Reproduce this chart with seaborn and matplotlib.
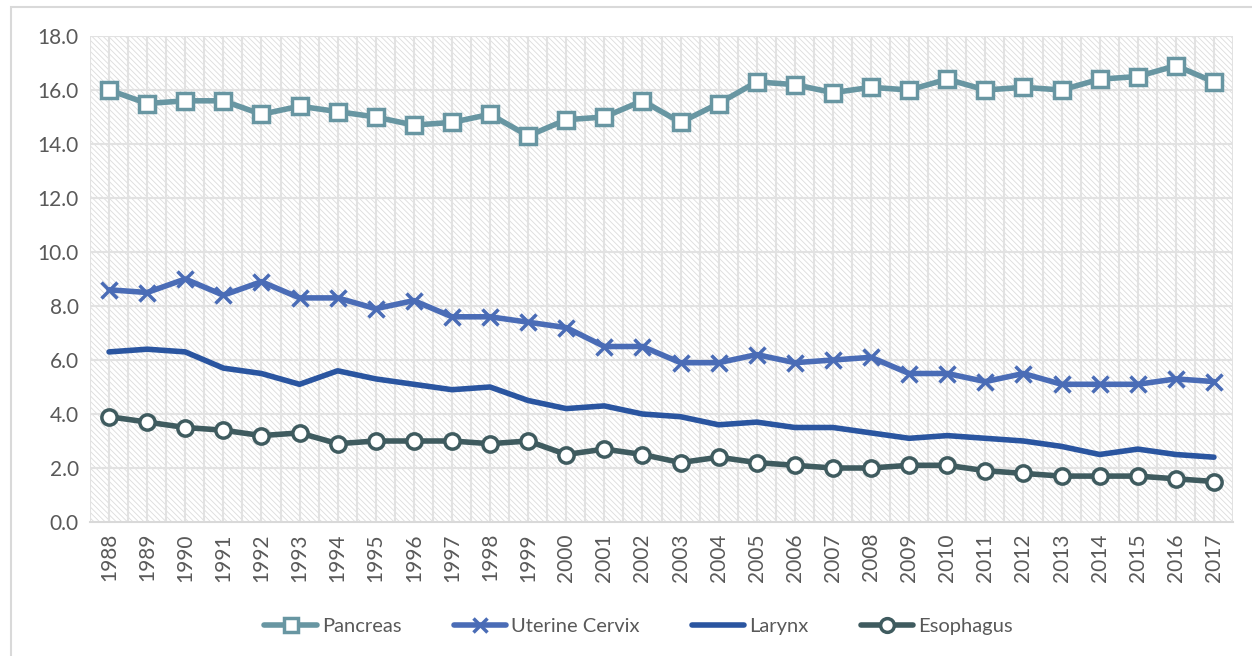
import numpy as np
import pandas as pd
import seaborn as sns
import matplotlib
matplotlib.use('Agg')
import matplotlib.pyplot as plt
from matplotlib.patches import Rectangle

# ------------------------------------------------
# Data

years = list(range(1988, 2018))

pancreas = [16.0, 15.5, 15.6, 15.6, 15.1, 15.4, 15.2, 15.0, 14.7, 14.8,
            15.1, 14.3, 14.9, 15.0, 15.6, 14.8, 15.5, 16.3, 16.2, 15.9,
            16.1, 16.0, 16.4, 16.0, 16.1, 16.0, 16.4, 16.5, 16.9, 16.3]

cervix = [8.6, 8.5, 9.0, 8.4, 8.9, 8.3, 8.3, 7.9, 8.2, 7.6,
          7.6, 7.4, 7.2, 6.5, 6.5, 5.9, 5.9, 6.2, 5.9, 6.0,
          6.1, 5.5, 5.5, 5.2, 5.5, 5.1, 5.1, 5.1, 5.3, 5.2]

larynx = [6.3, 6.4, 6.3, 5.7, 5.5, 5.1, 5.6, 5.3, 5.1, 4.9,
          5.0, 4.5, 4.2, 4.3, 4.0, 3.9, 3.6, 3.7, 3.5, 3.5,
          3.3, 3.1, 3.2, 3.1, 3.0, 2.8, 2.5, 2.7, 2.5, 2.4]

esophagus = [3.9, 3.7, 3.5, 3.4, 3.2, 3.3, 2.9, 3.0, 3.0, 3.0,
             2.9, 3.0, 2.5, 2.7, 2.5, 2.2, 2.4, 2.2, 2.1, 2.0,
             2.0, 2.1, 2.1, 1.9, 1.8, 1.7, 1.7, 1.7, 1.6, 1.5]

series_names = ['Pancreas', 'Uterine Cervix', 'Larynx', 'Esophagus']
series_colors = ['#6896A2', '#4A6CB6', '#2A55A0', '#3F5B5F']
series_markers = ['s', 'x', None, 'o']

# ------------------------------------------------

sns.set_style('white')
plt.rcParams['font.family'] = ['Lato', 'DejaVu Sans']
plt.rcParams['hatch.linewidth'] = 0.6
plt.rcParams['hatch.color'] = '#DCDCDC'

text_color = '#595959'

df = pd.DataFrame({'year': years,
                   'Pancreas': pancreas,
                   'Uterine Cervix': cervix,
                   'Larynx': larynx,
                   'Esophagus': esophagus})
df['pos'] = np.arange(len(years))

fig = plt.figure(figsize=(12.52, 6.56), dpi=100)
ax = fig.add_axes([90 / 1252, 1 - 522 / 656, (1233 - 90) / 1252, (522 - 36) / 656])

# hatched plot area background
ax.add_patch(Rectangle((0, 0), 1, 1, transform=ax.transAxes, facecolor='white',
                       hatch='\\\\\\\\\\\\', edgecolor='#DCDCDC', linewidth=0, zorder=0))

# gridlines
for yv in np.arange(2, 18.1, 2):
    ax.axhline(yv, color='#E2E2E2', linewidth=1.5, zorder=1)
for xv in np.arange(-0.5, len(years), 0.5):
    ax.axvline(xv, color='#E2E2E2', linewidth=1.5, zorder=1)

for name, color, marker in zip(series_names, series_colors, series_markers):
    if marker == 's':
        kw = dict(marker='s', markersize=11, markerfacecolor='white',
                  markeredgecolor=color, markeredgewidth=2.5)
    elif marker == 'x':
        kw = dict(marker='x', markersize=11, markeredgecolor=color, markeredgewidth=2.5)
    elif marker == 'o':
        kw = dict(marker='o', markersize=11, markerfacecolor='white',
                  markeredgecolor=color, markeredgewidth=2.5)
    else:
        kw = {}
    sns.lineplot(data=df, x='pos', y=name, color=color, linewidth=4,
                 ax=ax, zorder=3, label=name, **kw)

ax.set_xlim(-0.5, len(years) - 0.5)
ax.set_ylim(0, 18)
ax.set_yticks(np.arange(0, 18.1, 2))
ax.set_yticklabels([f'{v:.1f}' for v in np.arange(0, 18.1, 2)])
ax.set_xticks(df['pos'])
ax.set_xticklabels([str(y) for y in years], rotation=90)
ax.tick_params(axis='both', length=0, labelsize=15, colors=text_color, pad=8)
ax.set_xlabel('')
ax.set_ylabel('')

for s in ['top', 'right', 'left']:
    ax.spines[s].set_visible(False)
ax.spines['bottom'].set_color('#D9D9D9')
ax.spines['bottom'].set_linewidth(1.5)

leg = ax.legend(loc='center', bbox_to_anchor=(0.48, -0.215), ncol=4, frameon=False,
                fontsize=14.5, handlelength=2.6, columnspacing=2.6, handletextpad=0.25,
                markerscale=0.9)
for t in leg.get_texts():
    t.set_color(text_color)

# outer chart border (left and top edges visible)
fig.add_artist(Rectangle((11 / 1252, -0.1), 1.2, 1 - 7 / 656 + 0.1,
                         transform=fig.transFigure, fill=False,
                         edgecolor='#D9D9D9', linewidth=1.5))

fig.savefig('out.png', dpi=100)
